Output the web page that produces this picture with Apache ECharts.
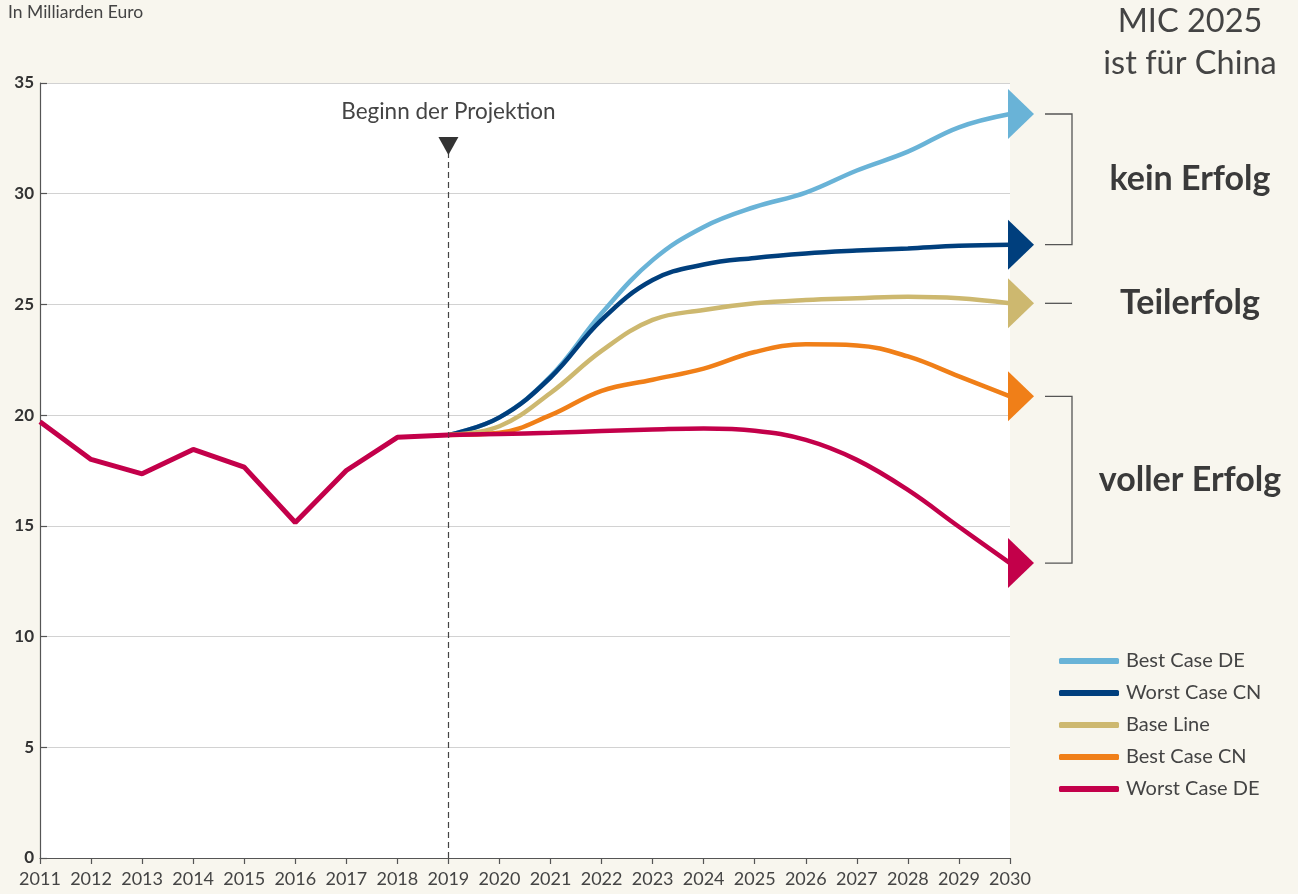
<!DOCTYPE html>
<html>
<head>
<meta charset="utf-8">
<script src="https://cdn.jsdelivr.net/npm/echarts@6/dist/echarts.min.js"></script>
<style>
  html, body { margin: 0; padding: 0; background: #f8f6ee; }
  #chart { width: 1298px; height: 894px; }
</style>
</head>
<body>
<div id="chart"></div>
<script>
// historical values 2011-2019 and projections 2019-2030 (Mrd. Euro)
const histYears = [2011, 2012, 2013, 2014, 2015, 2016, 2017, 2018, 2019]
const history = [19.7, 18.0, 17.35, 18.45, 17.65, 15.15, 17.5, 19.0, 19.1]

const projYears = [2019, 2020, 2021, 2022, 2023, 2024, 2025, 2026, 2027, 2028, 2029, 2030]
const bestCaseDE = [19.1, 19.9, 21.75, 24.6, 27.0, 28.5, 29.4, 30.05, 31.05, 31.9, 33.0, 33.6]
const worstCaseCN = [19.1, 19.9, 21.7, 24.3, 26.1, 26.8, 27.1, 27.3, 27.43, 27.53, 27.65, 27.7]
const baseLine = [19.1, 19.5, 21.0, 22.9, 24.3, 24.75, 25.05, 25.2, 25.28, 25.35, 25.28, 25.05]
const bestCaseCN = [19.1, 19.2, 20.0, 21.1, 21.6, 22.1, 22.85, 23.2, 23.15, 22.65, 21.75, 20.85]
const worstCaseDE = [19.1, 19.15, 19.2, 19.28, 19.35, 19.4, 19.3, 18.88, 17.98, 16.62, 14.96, 13.32]

const projStart = 2019
const FONT = 'Lato'
const TEXT = '#444'

const scenarios = [
  { name: 'Best Case DE', color: '#69b3d7', data: bestCaseDE },
  { name: 'Worst Case CN', color: '#003f7d', data: worstCaseCN },
  { name: 'Base Line', color: '#cdb86f', data: baseLine },
  { name: 'Best Case CN', color: '#f07f18', data: bestCaseCN },
  { name: 'Worst Case DE', color: '#c3004a', data: worstCaseDE },
]

const pairs = (xs, ys) => xs.map((x, i) => [x, ys[i]])

const chart = echarts.init(document.getElementById('chart'))

const series = scenarios.map((s) => ({
  name: s.name,
  type: 'line',
  smooth: 0.4,
  symbol: 'none',
  lineStyle: { width: 4.5, color: s.color },
  itemStyle: { color: s.color },
  data: pairs(projYears, s.data),
}))

series.push({
  name: 'Historie',
  type: 'line',
  symbol: 'none',
  z: 5,
  lineStyle: { width: 5, color: '#c3004a' },
  data: pairs(histYears, history),
  markLine: {
    silent: true,
    symbol: ['none', 'none'],
    label: { show: false },
    lineStyle: { type: [6, 4], color: '#444', width: 1.2 },
    data: [[{ coord: [projStart, 0] }, { coord: [projStart, 31.9] }]],
  },
  markPoint: {
    silent: true,
    data: [{
      coord: [projStart, 32.15],
      symbol: 'triangle',
      symbolRotate: 180,
      symbolSize: [20, 18],
      itemStyle: { color: '#333' },
      label: {
        show: true,
        position: 'top',
        distance: 14,
        formatter: 'Beginn der Projektion',
        color: TEXT,
        fontFamily: FONT,
        fontSize: 22.5,
      },
    }],
  },
})

// arrow heads at the end of each scenario
series.push({
  name: 'Pfeile',
  type: 'scatter',
  clip: false,
  z: 6,
  silent: true,
  symbol: 'path://M0,0L26,25L0,50Z',
  symbolSize: [26, 50],
  symbolOffset: [11, 0],
  data: scenarios.map((s) => ({
    value: [2030, s.data[s.data.length - 1]],
    itemStyle: { color: s.color, opacity: 1 },
  })),
})

chart.setOption({
  backgroundColor: '#f8f6ee',
  animation: false,
  textStyle: { fontFamily: FONT },
  grid: {
    left: 40, right: 288, top: 83, bottom: 36,
    show: true, backgroundColor: '#fff', borderWidth: 0,
  },
  legend: {
    data: scenarios.map((s) => s.name),
    orient: 'vertical',
    left: 1054,
    top: 646,
    itemWidth: 60,
    itemHeight: 6,
    itemGap: 12,
    icon: 'roundRect',
    textStyle: { color: TEXT, fontSize: 20, fontFamily: FONT, padding: [0, 0, 0, 2] },
  },
  xAxis: {
    type: 'value',
    min: 2011,
    max: 2030,
    interval: 1,
    splitLine: { show: false },
    axisLine: { lineStyle: { color: '#555', width: 1.2 } },
    axisTick: { show: true, length: 6, lineStyle: { color: '#555', width: 1.2 } },
    axisLabel: { color: TEXT, fontSize: 18, margin: 12, formatter: (v) => String(v) },
  },
  yAxis: {
    type: 'value',
    min: 0,
    max: 35,
    interval: 5,
    splitLine: { lineStyle: { color: '#d2d2d2', width: 1 } },
    axisLine: { show: true, lineStyle: { color: '#555', width: 1.2 } },
    axisTick: { show: true, inside: true, length: 7, lineStyle: { color: '#555', width: 1.2 } },
    axisLabel: { color: '#333', fontSize: 17, fontWeight: 'bold', margin: 6 },
  },
  series,
})

// annotations on the right, positioned from the end values
const endPx = (arr) => chart.convertToPixel({ gridIndex: 0 }, [2030, arr[arr.length - 1]])
const pBest = endPx(bestCaseDE)
const pWorstCN = endPx(worstCaseCN)
const pBase = endPx(baseLine)
const pBestCN = endPx(bestCaseCN)
const pWorstDE = endPx(worstCaseDE)
const bx0 = pBest[0] + 35
const bx1 = pBest[0] + 62
const labelX = 1190

const bracket = (y0, y1) => ({
  type: 'polyline',
  silent: true,
  shape: { points: [[bx0, y0], [bx1, y0], [bx1, y1], [bx0, y1]] },
  style: { stroke: '#555', lineWidth: 1.3, fill: null },
})

const bigText = (text, y, bold) => ({
  type: 'text',
  silent: true,
  style: {
    text, x: labelX, y,
    align: 'center', verticalAlign: 'middle',
    fontFamily: FONT, fontSize: bold ? 34 : 32.5, fontWeight: bold ? 'bold' : 'normal',
    fill: bold ? '#3a3a3a' : TEXT,
  },
})

chart.setOption({
  graphic: [
    {
      type: 'text', silent: true,
      style: { text: 'In Milliarden Euro', x: 8, y: 3, fontFamily: FONT, fontSize: 17.5, fill: TEXT },
    },
    bigText('MIC 2025', 22, false),
    bigText('ist für China', 64, false),
    bracket(pBest[1], pWorstCN[1]),
    bigText('kein Erfolg', (pBest[1] + pWorstCN[1]) / 2, true),
    {
      type: 'line', silent: true,
      shape: { x1: bx0, y1: pBase[1], x2: bx1, y2: pBase[1] },
      style: { stroke: '#555', lineWidth: 1.3 },
    },
    bigText('Teilerfolg', pBase[1], true),
    bracket(pBestCN[1], pWorstDE[1]),
    bigText('voller Erfolg', (pBestCN[1] + pWorstDE[1]) / 2, true),
  ],
})
</script>
</body>
</html>
